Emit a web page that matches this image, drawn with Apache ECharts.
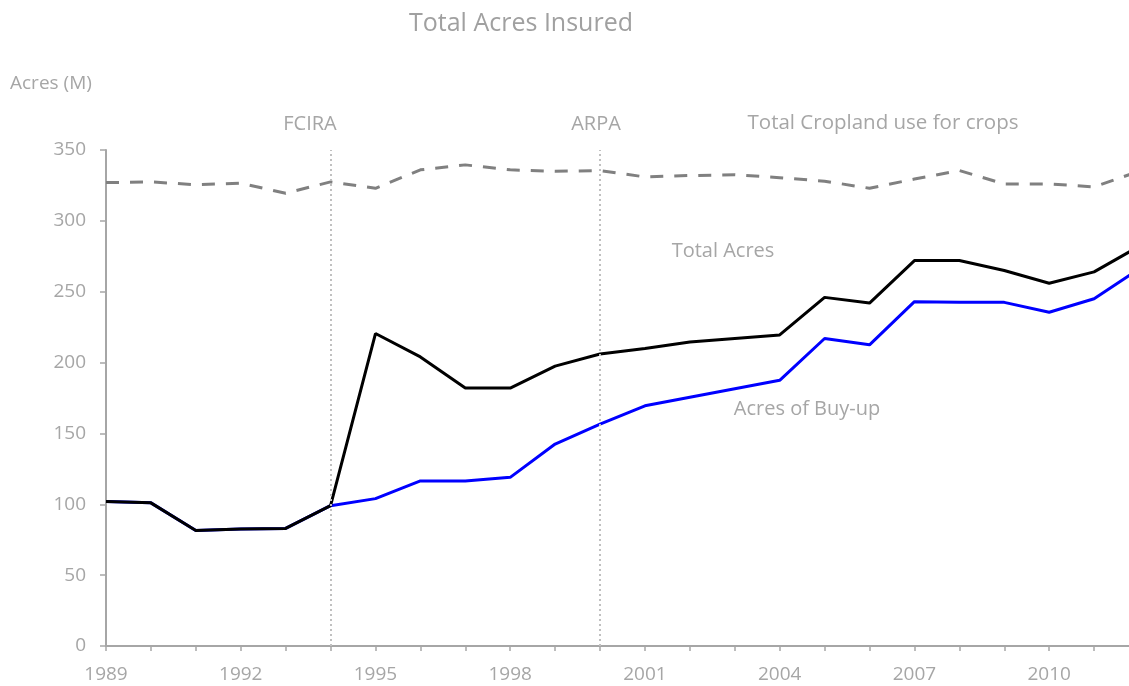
<!DOCTYPE html>
<html>
<head>
<meta charset="utf-8">
<script src="https://cdn.jsdelivr.net/npm/echarts@6/dist/echarts.min.js"></script>
<style>
html,body{margin:0;padding:0;background:#fff;overflow:hidden;width:1129px;height:686px;}
#chart{width:1140px;height:686px;}
</style>
</head>
<body>
<div id="chart"></div>
<script>
var years = ['1989','1990','1991','1992','1993','1994','1995','1996','1997','1998','1999','2000',
             '2001','2002','2003','2004','2005','2006','2007','2008','2009','2010','2011','2012'];
var totalAcres = [102, 101, 81.5, 82.5, 83, 99, 220.5, 204, 182, 182, 197.5, 206,
                  210, 214.5, 217, 219.5, 246, 242, 272, 272, 265, 256, 264, 282];
var buyUpAcres = [102, 101, 81.5, 82.5, 83, 99, 104, 116.5, 116.5, 119, 142.5, 156.5,
                  169.5, 175.5, 181.5, 187.5, 217, 212.5, 243, 242.5, 242.5, 235.5, 245, 266];
var croplandAcres = [327, 327.5, 325.5, 326.5, 319.5, 327.5, 323, 336, 339.5, 336, 335, 335.5,
                     331, 332, 332.5, 330.5, 328, 323, 329.5, 335.5, 326, 326, 324, 335];
var policyYears = ['1994', '2000'];
var yTicks = {min: 0, max: 350, interval: 50};

var FONT = '"Open Sans", "Noto Sans", sans-serif';
var GRAY = '#a6a6a6';

var chart = echarts.init(document.getElementById('chart'));
chart.setOption({
  animation: false,
  backgroundColor: '#ffffff',
  grid: {left: 106, right: 1, top: 150, bottom: 40, containLabel: false},
  xAxis: {
    type: 'category',
    data: years,
    boundaryGap: false,
    axisLine: {show: true, lineStyle: {color: '#a6a6a6', width: 2}},
    axisTick: {show: true, interval: 0, length: 5, lineStyle: {color: '#a6a6a6', width: 1.5}},
    axisLabel: {interval: 2, margin: 19, color: GRAY, fontSize: 19, fontFamily: FONT},
    splitLine: {show: false}
  },
  yAxis: {
    type: 'value',
    min: yTicks.min, max: yTicks.max, interval: yTicks.interval,
    axisLine: {show: true, lineStyle: {color: '#a6a6a6', width: 2}},
    axisTick: {show: true, inside: false, length: 6, lineStyle: {color: '#a6a6a6', width: 1.5}},
    axisLabel: {margin: 20, color: GRAY, fontSize: 19, fontFamily: FONT},
    splitLine: {show: false}
  },
  series: [
    {
      name: 'Total Cropland use for crops',
      type: 'line',
      data: croplandAcres,
      symbol: 'none',
      lineStyle: {color: '#808080', width: 3, type: [13, 11]},
      z: 2,
      markLine: {
        silent: true,
        symbol: ['none', 'none'],
        label: {show: false},
        lineStyle: {color: '#c0c0c0', width: 2, type: [2, 3]},
        data: policyYears.map(function (y) { return {xAxis: y}; })
      }
    },
    {
      name: 'Acres of Buy-up',
      type: 'line',
      data: buyUpAcres,
      symbol: 'none',
      lineStyle: {color: '#0000ff', width: 3},
      z: 3
    },
    {
      name: 'Total Acres',
      type: 'line',
      data: totalAcres,
      symbol: 'none',
      lineStyle: {color: '#000000', width: 3},
      z: 4
    }
  ],
  graphic: [
    {type: 'text', x: 521, y: 24, style: {text: 'Total Acres Insured', fill: '#a0a0a0', font: '25px ' + FONT, textAlign: 'center', textVerticalAlign: 'middle'}},
    {type: 'text', x: 10, y: 84, style: {text: 'Acres (M)', fill: GRAY, font: '19px ' + FONT, textVerticalAlign: 'middle'}},
    {type: 'text', x: 310, y: 124, style: {text: 'FCIRA', fill: GRAY, font: '20px ' + FONT, textAlign: 'center', textVerticalAlign: 'middle'}},
    {type: 'text', x: 596, y: 124, style: {text: 'ARPA', fill: GRAY, font: '20px ' + FONT, textAlign: 'center', textVerticalAlign: 'middle'}},
    {type: 'text', x: 883, y: 123, style: {text: 'Total Cropland use for crops', fill: GRAY, font: '20.5px ' + FONT, textAlign: 'center', textVerticalAlign: 'middle'}},
    {type: 'text', x: 723, y: 251, style: {text: 'Total Acres', fill: GRAY, font: '20px ' + FONT, textAlign: 'center', textVerticalAlign: 'middle'}},
    {type: 'text', x: 807, y: 409, style: {text: 'Acres of Buy-up', fill: GRAY, font: '20px ' + FONT, textAlign: 'center', textVerticalAlign: 'middle'}}
  ]
});
</script>
</body>
</html>
